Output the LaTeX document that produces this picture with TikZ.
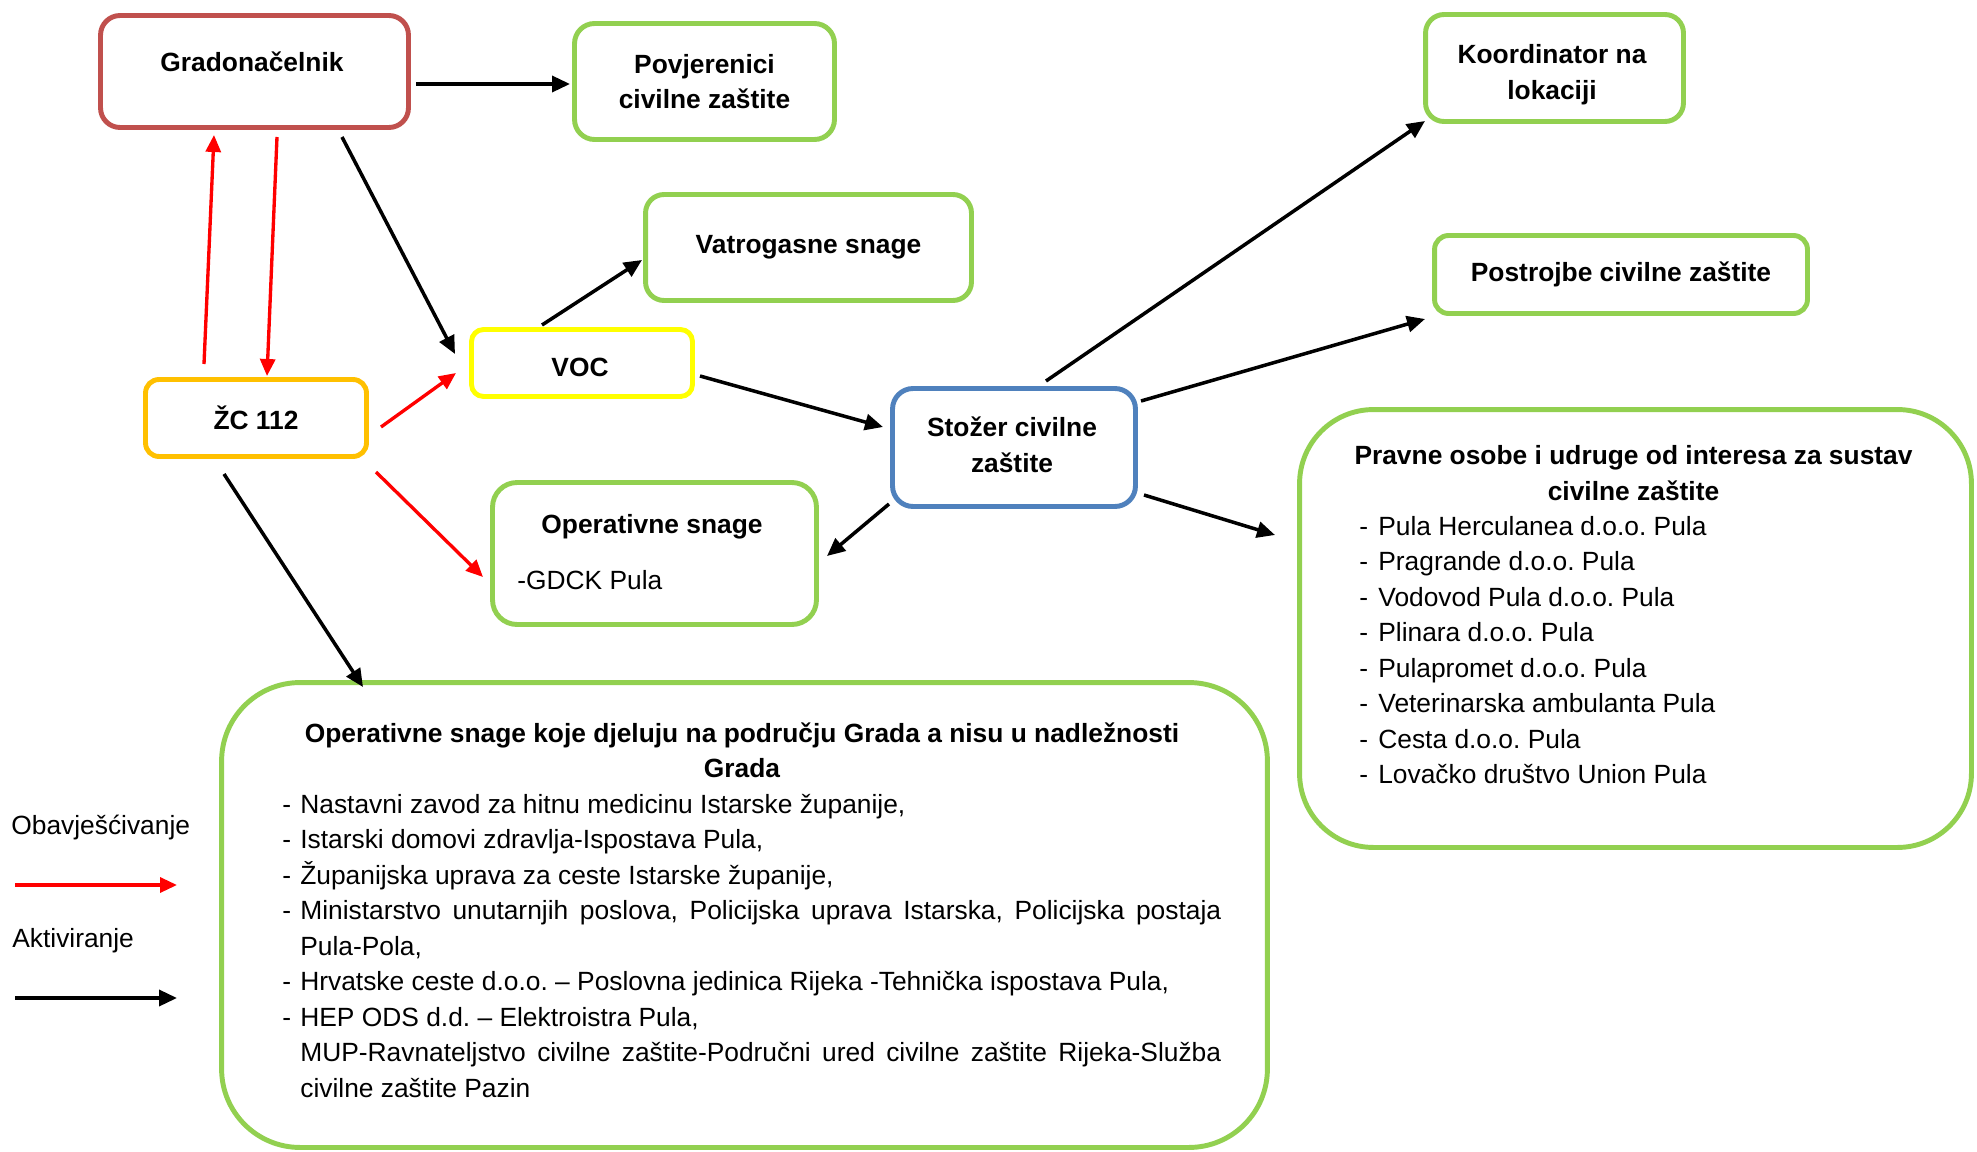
\documentclass[tikz,border=0pt]{standalone}
\usepackage{fontspec}
\setmainfont{Liberation Sans}
\usetikzlibrary{arrows.meta,calc}
\definecolor{cRed}{HTML}{C0504D}
\definecolor{cGreen}{HTML}{92D050}
\definecolor{cYellow}{HTML}{FFFF00}
\definecolor{cOrange}{HTML}{FFC000}
\definecolor{cBlue}{HTML}{4F81BD}
\frenchspacing
\begin{document}
\frenchspacing
\begin{tikzpicture}[x=0.02cm,y=-0.02cm,
  box/.style={draw, line width=2.8pt, inner sep=0pt, align=center, font=\bfseries\fontsize{15}{20.2}\selectfont\frenchspacing},
  txt/.style={inner sep=0pt, font=\fontsize{15}{20.2}\selectfont\frenchspacing},
  btxt/.style={inner sep=0pt, font=\bfseries\fontsize{15}{20.2}\selectfont\frenchspacing},
  act/.style={black, line width=2pt, -{Triangle[length=0.36cm,width=0.32cm]}},
  inf/.style={red, line width=1.9pt, -{Triangle[length=0.34cm,width=0.3cm]}}]

\fill[white] (0,0) rectangle (1977,1152);

% boxes
\node[box, draw=cRed, rounded corners=0.39cm, minimum width=6.16cm, minimum height=2.24cm] (grad) at (254.5,71.5) {};
\node[btxt, anchor=base] (gradT) at (252,71.3) {Gradonačelnik};

\node[box, draw=cGreen, rounded corners=0.40cm, minimum width=5.2cm, minimum height=2.32cm] (povj) at (704.5,81.5) {Povjerenici\\civilne zaštite};

\node[box, draw=cGreen, rounded corners=0.37cm, minimum width=6.52cm, minimum height=2.12cm] (vatro) at (808.5,247.5) {Vatrogasne snage};

\node[box, draw=cYellow, rounded corners=0.24cm, minimum width=4.42cm, minimum height=1.34cm] (voc) at (582,363) {};
\node[btxt] (vocT) at (580,367) {VOC};

\node[box, draw=cOrange, rounded corners=0.27cm, minimum width=4.42cm, minimum height=1.54cm] (zc) at (256,418) {ŽC 112};

\node[box, draw=cGreen, rounded corners=0.49cm, minimum width=6.48cm, minimum height=2.84cm] (oper) at (654.5,553.5) {};
\node[btxt, anchor=base] (operT) at (652,533) {Operativne snage};
\node[txt, anchor=base west] (operL) at (517,589) {-GDCK Pula};

\node[box, draw=cBlue, rounded corners=0.41cm, minimum width=4.86cm, minimum height=2.36cm] (stozer) at (1014,447.5) {};
\node[btxt, align=center] (stozerT) at (1012,445) {Stožer civilne\\zaštite};

\node[box, draw=cGreen, rounded corners=0.37cm, minimum width=5.16cm, minimum height=2.14cm] (koord) at (1554.5,68) {};
\node[btxt, align=center] (koordT) at (1552,74.5) {Koordinator na\\lokaciji};

\node[box, draw=cGreen, rounded corners=0.28cm, minimum width=7.46cm, minimum height=1.56cm] (postr) at (1621,274.5) {Postrojbe civilne zaštite};

\node[box, draw=cGreen, rounded corners=1.48cm, minimum width=13.44cm, minimum height=8.76cm] (pravne) at (1635.5,628.5) {};
\node[btxt, anchor=north, align=center] (pravneT) at (1633.5,439.5) {\strut Pravne osobe i udruge od interesa za sustav\\civilne zaštite};
\node[txt, anchor=north west, align=left] (pravneL) at (1359,510.2) {\strut\makebox[0.38cm][l]{-}Pula Herculanea d.o.o. Pula\\
\makebox[0.38cm][l]{-}Pragrande d.o.o. Pula\\
\makebox[0.38cm][l]{-}Vodovod Pula d.o.o. Pula\\
\makebox[0.38cm][l]{-}Plinara d.o.o. Pula\\
\makebox[0.38cm][l]{-}Pulapromet d.o.o. Pula\\
\makebox[0.38cm][l]{-}Veterinarska ambulanta Pula\\
\makebox[0.38cm][l]{-}Cesta d.o.o. Pula\\
\makebox[0.38cm][l]{-}Lovačko društvo Union Pula};

\node[box, draw=cGreen, rounded corners=1.57cm, minimum width=20.92cm, minimum height=9.3cm] (big) at (744.5,915) {};
\node[btxt, anchor=north, align=center] (bigT) at (742,717.2) {\strut Operativne snage koje djeluju na području Grada a nisu u nadležnosti\\Grada};
\node[txt, anchor=north west, align=left] (bigL) at (282,787.9) {\strut\makebox[0.36cm][l]{-}Nastavni zavod za hitnu medicinu Istarske županije,\\
\makebox[0.36cm][l]{-}Istarski domovi zdravlja-Ispostava Pula,\\
\makebox[0.36cm][l]{-}Županijska uprava za ceste Istarske županije,\\
\makebox[0.36cm][l]{-}\hbox to 18.42cm{Ministarstvo unutarnjih poslova, Policijska uprava Istarska, Policijska postaja}\\
\hspace*{0.36cm}Pula-Pola,\\
\makebox[0.36cm][l]{-}Hrvatske ceste d.o.o. – Poslovna jedinica Rijeka -Tehnička ispostava Pula,\\
\makebox[0.36cm][l]{-}HEP ODS d.d. – Elektroistra Pula,\\
\hspace*{0.36cm}\hbox to 18.42cm{MUP-Ravnateljstvo civilne zaštite-Područni ured civilne zaštite Rijeka-Služba}\\
\hspace*{0.36cm}civilne zaštite Pazin};

% legend
\node[txt, anchor=base west] (legInf) at (11,834) {Obavješćivanje};
\node[txt, anchor=base west] (legAct) at (12,947.7) {Aktiviranje};
\coordinate (r1) at (15,885);
\coordinate (r2) at (177,885);
\coordinate (b1) at (15,998);
\coordinate (b2) at (177,998);
\draw[inf] (r1) -- (r2);
\draw[act] (b1) -- (b2);

% connectors
\draw[act] ($(grad.center)+(161.5,12.5)$) -- ($(povj.center)+(-134.5,2.5)$);
\draw[act] ($(grad.center)+(87.5,65.5)$) -- ($(voc.center)+(-127,-9)$);
\draw[inf] ($(zc.center)+(-52,-54)$) -- ($(grad.center)+(-40.5,63.5)$);
\draw[inf] ($(grad.center)+(22.5,65.5)$) -- ($(zc.center)+(11,-42)$);
\draw[inf] ($(zc.center)+(125,9)$) -- ($(voc.center)+(-126,10)$);
\draw[inf] ($(zc.center)+(120,54)$) -- ($(oper.center)+(-171.5,23.5)$);
\draw[act] ($(zc.center)+(-32,56)$) -- ($(big.center)+(-381.5,-228)$);
\draw[act] ($(voc.center)+(-40,-38)$) -- ($(vatro.center)+(-166.5,12.5)$);
\draw[act] ($(voc.center)+(118,13)$) -- ($(stozer.center)+(-131,-20.5)$);
\draw[act] ($(stozer.center)+(-125,56.5)$) -- ($(oper.center)+(172.5,2.5)$);
\draw[act] ($(stozer.center)+(32,-66.5)$) -- ($(koord.center)+(-129.5,53)$);
\draw[act] ($(stozer.center)+(127,-46.5)$) -- ($(postr.center)+(-196,44.5)$);
\draw[act] ($(stozer.center)+(130,47.5)$) -- ($(pravne.center)+(-360.5,-93.5)$);
\end{tikzpicture}
\end{document}
